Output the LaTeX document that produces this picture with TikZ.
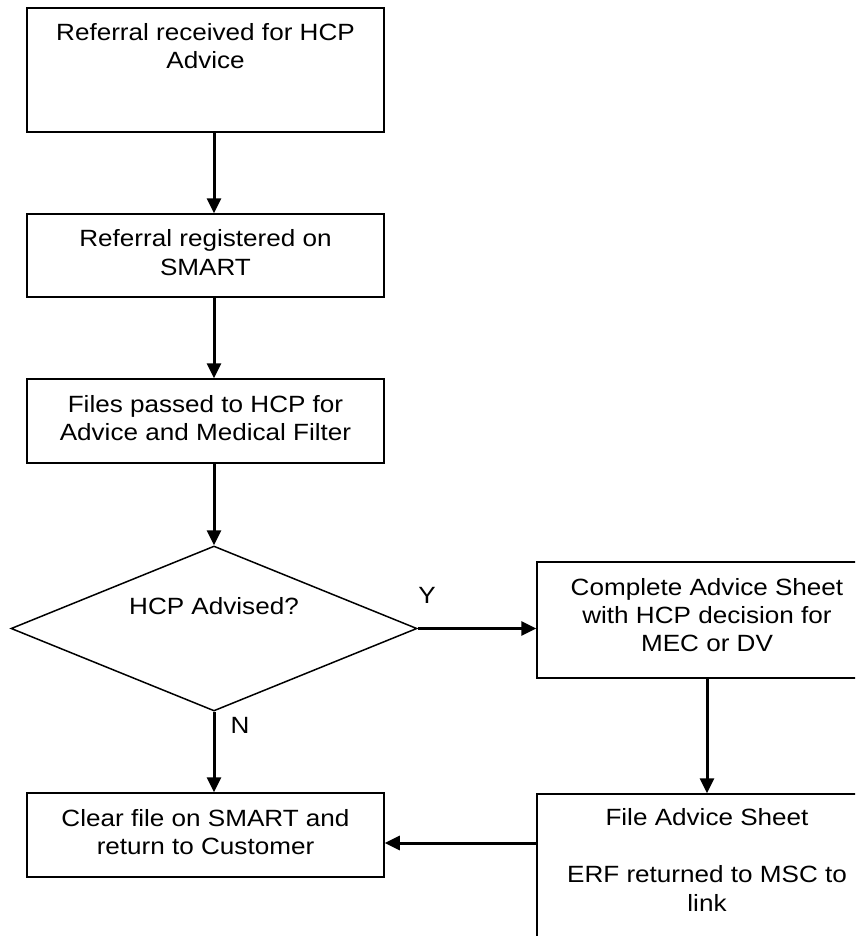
\documentclass[tikz,border=0pt]{standalone}
\usepackage{fontspec}
\setmainfont{Liberation Sans}[FakeStretch=1.11]
\usetikzlibrary{positioning,arrows.meta,shapes.geometric}

\begin{document}
\begin{tikzpicture}[x=1pt, y=-1pt,
  font=\fontsize{23.5pt}{28.4pt}\selectfont,
  proc/.style={rectangle, draw, line width=1.5pt, inner sep=0pt},
  decide/.style={diamond, draw, line width=1.5pt, inner sep=0pt, minimum width=406pt, minimum height=165pt},
  txt/.style={align=center, inner sep=0pt},
  arr/.style={-{Triangle[length=15pt, width=14pt]}, line width=3pt}]
\useasboundingbox (0,0) rectangle (855,936);
\clip (0,0) rectangle (855,936);
\node[proc, minimum width=357pt, minimum height=124pt] (recv) at (205.5,70) {};
\node[txt, anchor=north] (recvtxt) at ([yshift=-16pt]recv.north) {Referral received for HCP\\Advice};
\node[proc, minimum width=357pt, minimum height=83pt] (reg) at (205.5,255.5) {};
\node[txt] (regtxt) at ([yshift=3pt]reg) {Referral registered on\\SMART};
\node[proc, minimum width=357pt, minimum height=84pt] (files) at (205.5,421) {};
\node[txt] (filestxt) at ([yshift=3pt]files) {Files passed to HCP for\\Advice and Medical Filter};
\node[decide] (advised) at (214,628.5) {};
\node[txt] (advisedtxt) at ([yshift=22pt]advised) {HCP Advised?};
\node[proc, minimum width=340pt, minimum height=116pt] (sheet) at (707,620) {};
\node[txt] (sheettxt) at ([yshift=5pt]sheet) {Complete Advice Sheet\\with HCP decision for\\MEC or DV};
\node[proc, minimum width=340pt, minimum height=206pt] (filed) at (707,897) {};
\node[txt, anchor=north] (filedtxt) at ([yshift=-15.5pt]filed.north) {File Advice Sheet\\[28.4pt]ERF returned to MSC to\\link};
\node[proc, minimum width=357pt, minimum height=84pt] (clear) at (205.5,835) {};
\node[txt] (cleartxt) at ([yshift=3pt]clear) {Clear file on SMART and\\return to Customer};
\draw[arr] (recv.south -| advised.north) -- (reg.north -| advised.north);
\draw[arr] (reg.south -| advised.north) -- (files.north -| advised.north);
\draw[arr] (files.south -| advised.north) -- (advised.north);
\draw[arr] (advised.east) -- (advised.east -| sheet.west);
\node[txt] (ylab) at (427,595) {Y};
\draw[arr] (advised.south) -- (clear.north -| advised.south);
\node[txt] (nlab) at (240,725) {N};
\draw[arr] (sheet.south) -- (filed.north);
\coordinate (link) at ([yshift=-8pt]clear.east);
\draw[arr] (link -| filed.west) -- (link);
\end{tikzpicture}
\end{document}
